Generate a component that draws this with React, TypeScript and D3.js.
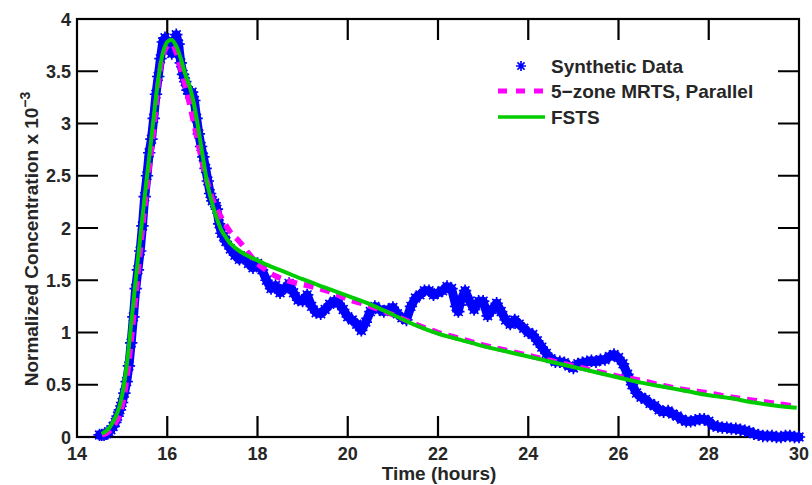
import React from "react";
import * as d3 from "d3";

// ---- Data ----
const dataTime = [
  14.5, 14.55, 14.6, 14.65, 14.7, 14.75, 14.8, 14.85, 14.9, 14.95,
  15.0, 15.05, 15.1, 15.15, 15.2, 15.25, 15.3, 15.35, 15.4, 15.45,
  15.5, 15.55, 15.6, 15.65, 15.7, 15.75, 15.8, 15.85, 15.9, 15.95,
  16.0, 16.05, 16.1, 16.15, 16.2, 16.25, 16.3, 16.35, 16.4, 16.45,
  16.5, 16.55, 16.6, 16.65, 16.7, 16.75, 16.8, 16.85, 16.9, 16.95,
  17.0, 17.05, 17.1, 17.15, 17.2, 17.25, 17.3,
  17.4, 17.5, 17.6, 17.7, 17.8, 17.9, 18.0, 18.1, 18.2, 18.3,
  18.4, 18.5, 18.6, 18.7, 18.8, 18.9, 19.0, 19.1, 19.2, 19.3,
  19.4, 19.5, 19.6, 19.7, 19.8, 19.9, 20.0, 20.1, 20.2, 20.3,
  20.4, 20.5, 20.6, 20.7, 20.8, 20.9, 21.0, 21.1, 21.2, 21.3,
  21.4, 21.5, 21.6, 21.7, 21.8, 21.9, 22.0, 22.1, 22.2, 22.3,
  22.4, 22.45, 22.5, 22.6, 22.7, 22.8, 22.9, 23.0, 23.1, 23.2,
  23.3, 23.4, 23.5, 23.6, 23.7, 23.8, 23.9, 24.0, 24.1, 24.2,
  24.3, 24.4, 24.5, 24.6, 24.7, 24.8, 24.9, 25.0, 25.1, 25.2,
  25.3, 25.4, 25.5, 25.6, 25.7, 25.8, 25.9, 26.0, 26.1, 26.2,
  26.3, 26.4, 26.5, 26.6, 26.7, 26.8, 26.9, 27.0, 27.1, 27.2,
  27.3, 27.4, 27.5, 27.6, 27.7, 27.8, 27.9, 28.0, 28.1, 28.2,
  28.3, 28.4, 28.5, 28.6, 28.7, 28.8, 28.9, 29.0, 29.1, 29.2,
  29.3, 29.4, 29.5, 29.6, 29.7, 29.8, 29.9, 30.0,
];
const dataConc = [
  0.02, 0.02, 0.02, 0.03, 0.05, 0.07, 0.1, 0.14, 0.2, 0.26,
  0.33, 0.42, 0.53, 0.68, 0.9, 1.15, 1.42, 1.6, 1.78, 2.02,
  2.3, 2.5, 2.72, 2.85, 3.05, 3.28, 3.45, 3.62, 3.78, 3.82,
  3.78, 3.7, 3.67, 3.76, 3.85, 3.76, 3.58, 3.47, 3.4, 3.32,
  3.28, 3.3, 3.22, 3.05, 2.9, 2.78, 2.68, 2.57, 2.45, 2.33,
  2.26, 2.24, 2.18, 2.04, 1.95, 1.92, 1.87,
  1.8, 1.74, 1.7, 1.72, 1.66, 1.62, 1.66, 1.6, 1.5, 1.42,
  1.45, 1.38, 1.42, 1.47, 1.38, 1.31, 1.3, 1.36, 1.25, 1.19,
  1.18, 1.22, 1.27, 1.3, 1.28, 1.22, 1.15, 1.12, 1.08, 1.02,
  1.1, 1.2, 1.25, 1.22, 1.2, 1.22, 1.24, 1.18, 1.14, 1.12,
  1.25, 1.33, 1.36, 1.4, 1.4, 1.36, 1.38, 1.4, 1.44, 1.42,
  1.25, 1.2, 1.3, 1.4, 1.3, 1.22, 1.3, 1.3, 1.16, 1.22,
  1.28, 1.2, 1.12, 1.08, 1.12, 1.08, 1.04, 1.0, 0.98, 0.92,
  0.86, 0.8, 0.75, 0.72, 0.72, 0.71, 0.68, 0.66, 0.7, 0.71,
  0.72, 0.73, 0.72, 0.74, 0.74, 0.77, 0.79, 0.76, 0.7, 0.6,
  0.5, 0.42, 0.38, 0.36, 0.32, 0.3, 0.26, 0.24, 0.25, 0.22,
  0.2, 0.17, 0.15, 0.15, 0.16, 0.17, 0.17, 0.15, 0.11, 0.1,
  0.09, 0.09, 0.08, 0.08, 0.07, 0.06, 0.05, 0.03, 0.02, 0.01,
  0.01, 0.01, 0.0, 0.0, 0.01, 0.01, 0.0, 0.0,
];

const mrtsTime = [
  14.55, 14.7, 14.9, 15.0, 15.1, 15.2, 15.3, 15.4, 15.5, 15.6,
  15.7, 15.8, 15.9, 16.0, 16.1, 16.2, 16.3, 16.4, 16.5, 16.6,
  16.7, 16.8, 16.9, 17.0, 17.2, 17.4, 17.6, 17.8, 18.0, 18.4,
  18.8, 19.2, 19.6, 20.0, 20.5, 21.0, 21.5, 22.0, 22.5, 23.0,
  23.5, 24.0, 24.5, 25.0, 25.5, 26.0, 26.5, 27.0, 27.5, 28.0,
  28.5, 29.0, 29.5, 29.95,
];
const mrtsConc = [
  0.02, 0.05, 0.17, 0.3, 0.55, 0.92, 1.35, 1.78, 2.2, 2.58,
  2.95, 3.38, 3.64, 3.74, 3.76, 3.68, 3.52, 3.36, 3.18, 2.98,
  2.78, 2.58, 2.42, 2.28, 2.1, 1.96, 1.87, 1.76, 1.66, 1.54,
  1.48, 1.44, 1.39, 1.32, 1.25, 1.17, 1.08, 1.0, 0.94, 0.88,
  0.83, 0.78, 0.73, 0.68, 0.63, 0.58, 0.54, 0.49, 0.45, 0.42,
  0.38, 0.35, 0.32, 0.29,
];

const fstsTime = [
  14.55, 14.7, 14.9, 15.0, 15.1, 15.2, 15.3, 15.4, 15.5, 15.6,
  15.7, 15.8, 15.9, 16.0, 16.1, 16.2, 16.3, 16.4, 16.5, 16.6,
  16.7, 16.8, 16.9, 17.0, 17.1, 17.2, 17.3, 17.4, 17.6, 17.8,
  18.0, 18.3, 18.6, 19.0, 19.5, 20.0, 20.5, 21.0, 21.5, 22.0,
  22.5, 23.0, 23.5, 24.0, 24.5, 25.0, 25.5, 26.0, 26.5, 27.0,
  27.5, 28.0, 28.5, 29.0, 29.5, 29.95,
];
const fstsConc = [
  0.03, 0.08, 0.24, 0.4, 0.68, 1.08, 1.5, 1.9, 2.3, 2.68,
  3.06, 3.42, 3.67, 3.78, 3.8, 3.74, 3.62, 3.47, 3.35, 3.17,
  2.92, 2.65, 2.4, 2.23, 2.09, 1.98, 1.91, 1.85, 1.78, 1.73,
  1.69, 1.63, 1.58, 1.51, 1.43, 1.35, 1.27, 1.17, 1.07, 0.99,
  0.93, 0.87, 0.82, 0.77, 0.72, 0.67, 0.62, 0.57, 0.52, 0.48,
  0.44, 0.4, 0.37, 0.33, 0.3, 0.28,
];

const xTicks = [14, 16, 18, 20, 22, 24, 26, 28, 30];
const yTicks = [0, 0.5, 1, 1.5, 2, 2.5, 3, 3.5, 4];
const legendLabels = ["Synthetic Data", "5\u2212zone MRTS, Parallel", "FSTS"];

const W = 812;
const H = 485;
const FONT = "'Liberation Sans', Arial, Helvetica, sans-serif";
const TEXT = "#262626";
const BLUE = "#0000ff";
const MAGENTA = "#ff00ff";
const GREEN = "#00cc00";

function Asterisk({ cx, cy, r }: { cx: number; cy: number; r: number }) {
  const d = r * 0.7071;
  return (
    <path
      d={`M${cx - r},${cy}H${cx + r}M${cx},${cy - r}V${cy + r}M${cx - d},${cy - d}L${cx + d},${cy + d}M${cx - d},${cy + d}L${cx + d},${cy - d}`}
    />
  );
}

export default function App() {
  const left = 77, right = 799, top = 19, bottom = 437;
  const x = d3.scaleLinear().domain([14, 30]).range([left, right]);
  const y = d3.scaleLinear().domain([0, 4]).range([bottom, top]);

  const dataPts = dataTime.map((t, i) => [t, dataConc[i]] as [number, number]);
  const mrtsPts = mrtsTime.map((t, i) => [t, mrtsConc[i]] as [number, number]);
  const fstsPts = fstsTime.map((t, i) => [t, fstsConc[i]] as [number, number]);

  const linePlain = d3.line<[number, number]>().x((d) => x(d[0])).y((d) => y(d[1]));
  const lineSmooth = d3
    .line<[number, number]>()
    .x((d) => x(d[0]))
    .y((d) => y(d[1]))
    .curve(d3.curveCatmullRom.alpha(0.5));

  const tickLen = 21;
  const innerX = xTicks.filter((t) => t > 14 && t < 30);
  const innerY = yTicks.filter((v) => v > 0 && v < 4);
  const tickSegs: string[] = [];
  innerX.forEach((t) => {
    const px = x(t);
    tickSegs.push(`M${px} ${bottom} L${px} ${bottom - tickLen}`);
    tickSegs.push(`M${px} ${top} L${px} ${top + tickLen}`);
  });
  innerY.forEach((v) => {
    const py = y(v);
    tickSegs.push(`M${left} ${py} L${left + tickLen} ${py}`);
    tickSegs.push(`M${right} ${py} L${right - tickLen} ${py}`);
  });

  return (
    <svg
      width={W}
      height={H}
      viewBox={`0 0 ${W} ${H}`}
      style={{ position: "absolute", left: 0, top: 0, background: "#fff", display: "block" }}
      fontFamily={FONT}
    >
      <rect x={0} y={0} width={W} height={H} fill="#fff" />
      {/* ticks */}
      <path d={tickSegs.join(" ")} fill="none" stroke="#000" strokeWidth={2.2} />
      <rect
        x={left}
        y={top}
        width={right - left}
        height={bottom - top}
        stroke="#000"
        strokeWidth={2.2}
        fill="none"
      />
      {/* tick labels */}
      <g fill={TEXT} fontWeight="bold" fontSize={18}>
        {xTicks.map((t) => (
          <text key={"xl" + t} x={x(t)} y={460} textAnchor="middle">
            {t}
          </text>
        ))}
        {yTicks.map((v) => (
          <text key={"yl" + v} x={71} y={y(v) + 6.5} textAnchor="end">
            {v}
          </text>
        ))}
      </g>
      {/* axis labels */}
      <text x={(left + right) / 2 + 1} y={480} textAnchor="middle" fill={TEXT} fontWeight="bold" fontSize={19}>
        Time (hours)
      </text>
      <text
        transform={`translate(38,239) rotate(-90)`}
        textAnchor="middle"
        fill={TEXT}
        fontWeight="bold"
        fontSize={19}
      >
        Normalized Concentration x 10
        <tspan dy={-8} fontSize={14}>
          {"\u22123"}
        </tspan>
      </text>

      {/* synthetic data */}
      <path
        d={linePlain(dataPts) || ""}
        fill="none"
        stroke={BLUE}
        strokeWidth={9}
        strokeLinejoin="round"
        strokeLinecap="round"
      />
      <g stroke={BLUE} strokeWidth={1.7} fill="none">
        {dataPts.map((p, i) => (
          <Asterisk key={"a" + i} cx={x(p[0])} cy={y(p[1])} r={6.2} />
        ))}
      </g>
      {/* MRTS */}
      <path
        d={lineSmooth(mrtsPts) || ""}
        fill="none"
        stroke={MAGENTA}
        strokeWidth={5.5}
        strokeDasharray="10,7"
      />
      {/* FSTS */}
      <path d={lineSmooth(fstsPts) || ""} fill="none" stroke={GREEN} strokeWidth={4} />

      {/* legend */}
      <g>
        <g stroke={BLUE} strokeWidth={1.7} fill="none">
          <Asterisk cx={521} cy={66} r={5} />
        </g>
        <line x1={498} x2={545} y1={91} y2={91} stroke={MAGENTA} strokeWidth={5} strokeDasharray="9,9" />
        <line x1={498} x2={545} y1={117} y2={117} stroke={GREEN} strokeWidth={3.5} />
        {legendLabels.map((l, i) => (
          <text
            key={l}
            x={551}
            y={[73, 98, 124][i]}
            fill={TEXT}
            fontWeight="bold"
            fontSize={19}
          >
            {l}
          </text>
        ))}
      </g>
    </svg>
  );
}
